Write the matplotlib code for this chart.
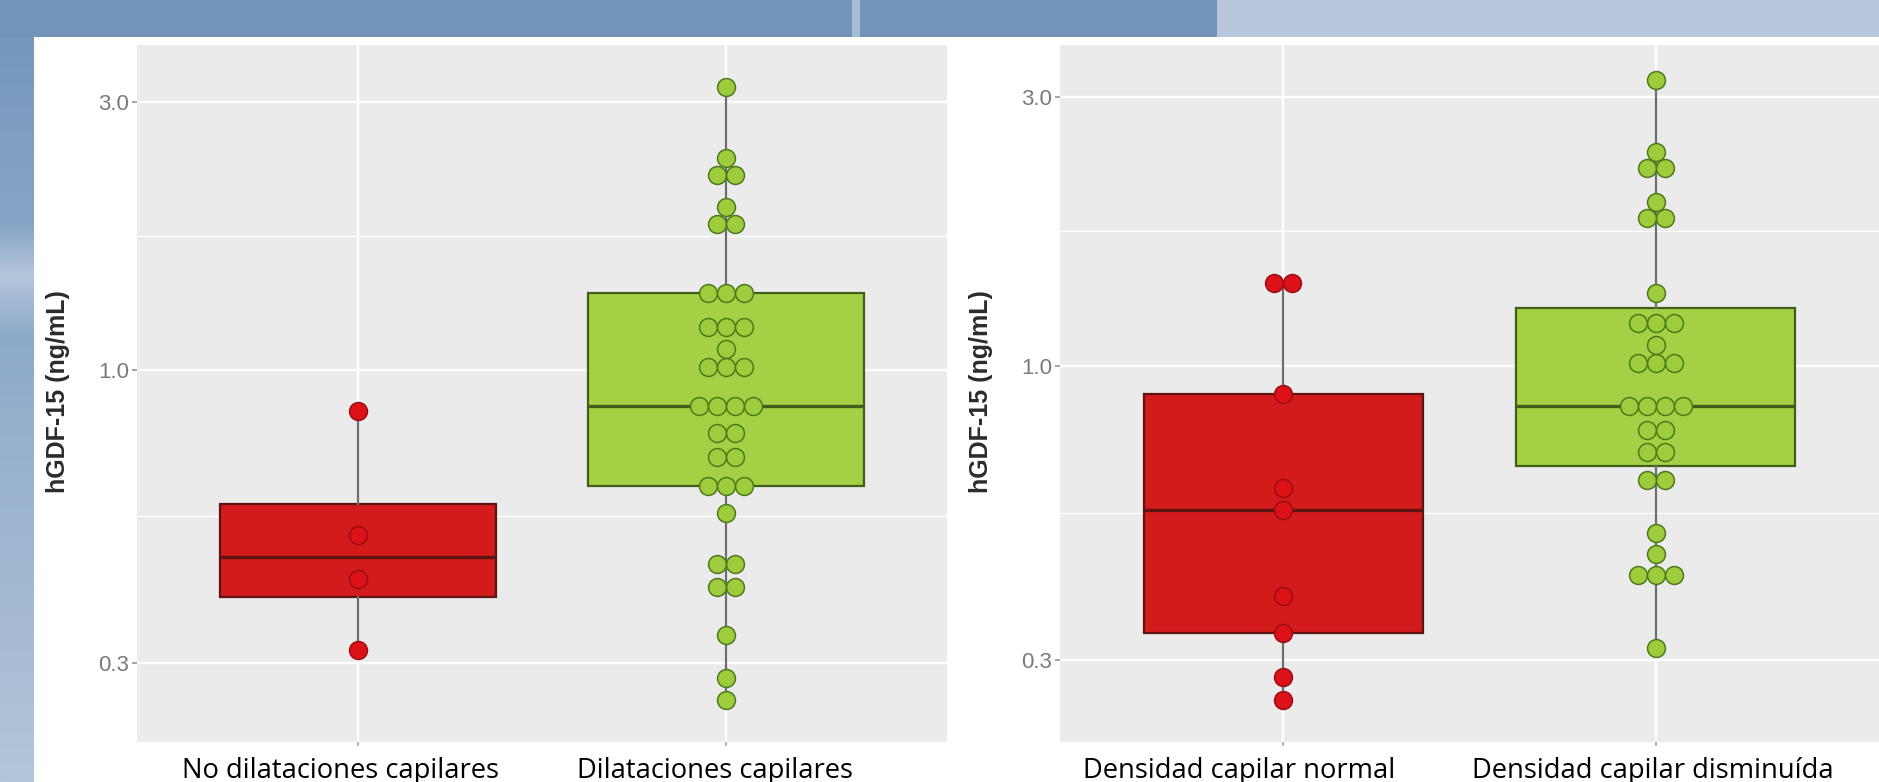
import numpy as np
import matplotlib
matplotlib.use("Agg")
import matplotlib.pyplot as plt
from matplotlib import cbook
from matplotlib.ticker import FixedLocator, NullFormatter
from matplotlib.patches import Rectangle
from matplotlib.colors import LinearSegmentedColormap

# ---- hGDF-15 (ng/mL) by group ----
capilares_groups = ["No dilataciones capilares", "Dilataciones capilares"]
no_dilataciones = [0.843, 0.507, 0.423, 0.3165]
dilataciones = [3.19, 2.38, 2.22, 2.22, 1.95, 1.82, 1.82,
                1.37, 1.37, 1.37, 1.19, 1.19, 1.19, 1.09,
                1.01, 1.01, 1.01, 0.86, 0.86, 0.86, 0.86,
                0.77, 0.77, 0.70, 0.70, 0.62, 0.62, 0.62,
                0.555, 0.45, 0.45, 0.41, 0.41, 0.336, 0.282, 0.258]

densidad_groups = ["Densidad capilar normal", "Densidad capilar disminuída"]
densidad_normal = [1.40, 1.40, 0.89, 0.606, 0.554, 0.390, 0.335, 0.280, 0.255]
densidad_disminuida = [3.21, 2.40, 2.24, 2.24, 1.955, 1.83, 1.83, 1.344,
                       1.19, 1.19, 1.19, 1.088, 1.01, 1.01, 1.01,
                       0.848, 0.848, 0.848, 0.848, 0.769, 0.769, 0.703, 0.703,
                       0.626, 0.626, 0.505, 0.463, 0.425, 0.425, 0.425, 0.315]

y_ticks = [0.3, 1.0, 3.0]
y_tick_labels = ["0.3", "1.0", "3.0"]
y_label = "hGDF-15 (ng/mL)"

# ---- styling ----
W, H, DPI = 1879, 782, 100
RED, RED_EDGE, RED_DOT, RED_DOT_EDGE = "#d31b1b", "#5e1414", "#dc1218", "#990e12"
GREEN, GREEN_EDGE, GREEN_DOT, GREEN_DOT_EDGE = "#a3d044", "#3f5f1a", "#9dcc3c", "#4c7a1b"
PANEL_BG = "#ebebeb"
TICK_FONT = ["Liberation Sans", "DejaVu Sans"]
LABEL_FONT = ["Liberation Sans", "DejaVu Sans"]
SLIDE_FONT = ["Open Sans", "DejaVu Sans"]

fig = plt.figure(figsize=(W / DPI, H / DPI), dpi=DPI, facecolor="white")


def px_rect(x0, y0, x1, y1):
    """Figure-fraction rectangle from pixel edges measured from the top-left."""
    return [x0 / W, 1 - y1 / H, (x1 - x0) / W, (y1 - y0) / H]


# ---- slide background: blue header band and left strip ----
bg = fig.add_axes([0, 0, 1, 1], zorder=-5)
bg.add_patch(Rectangle((0, 0), 1217, 37, color="#7294b9", lw=0))
bg.add_patch(Rectangle((1217, 0), W - 1217, 37, color="#b7c8dc", lw=0))
bg.add_patch(Rectangle((852, 0), 8, 37, color="#a6bdd6", lw=0))
strip_cmap = LinearSegmentedColormap.from_list(
    "strip", [(0.0, "#7698be"), (0.25, "#86a4c6"), (0.32, "#b4c6da"),
              (0.40, "#8eaacb"), (0.65, "#9db5cf"), (1.0, "#b3c5d9")])
grad = np.linspace(0, 1, 256).reshape(-1, 1)
bg.imshow(grad, cmap=strip_cmap, extent=(0, 34, 782, 37), aspect="auto",
          interpolation="bilinear")
bg.set_xlim(0, W)
bg.set_ylim(H, 0)
bg.axis("off")


def log_box_stats(values):
    """Box statistics computed on the log10 scale, returned in data units."""
    st = cbook.boxplot_stats(np.log10(values), whis=1.5)[0]
    for k in ("med", "q1", "q3", "whislo", "whishi", "mean", "cilo", "cihi"):
        st[k] = 10 ** st[k]
    st["fliers"] = 10 ** np.asarray(st["fliers"])
    return st


def draw_panel(rect, ylim, groups, series, fills, edges, dot_faces, dot_edges):
    ax = fig.add_axes(rect)
    ax.set_facecolor(PANEL_BG)
    ax.set_yscale("log")
    for s in ax.spines.values():
        s.set_visible(False)
    ax.set_axisbelow(True)

    positions = np.arange(1, len(groups) + 1)
    stats = [log_box_stats(v) for v in series]
    art = ax.bxp(stats, positions=positions, widths=0.75, patch_artist=True,
                 showcaps=False, showfliers=False, manage_ticks=False,
                 whiskerprops=dict(color="#6e6e6e", lw=1.6),
                 medianprops=dict(lw=2.4), zorder=2)
    for box, med, fc, ec in zip(art["boxes"], art["medians"], fills, edges):
        box.set_facecolor(fc)
        box.set_edgecolor(ec)
        box.set_linewidth(1.6)
        med.set_color(ec)

    ax.set_xlim(0.4, 2.6)
    ax.set_ylim(*ylim)
    ax.set_xticks(positions)
    ax.set_xticklabels([])
    ax.set_yticks(y_ticks)
    ax.set_yticklabels(y_tick_labels, family=TICK_FONT, fontsize=16,
                       color="#7a7a7a")
    minor = [np.sqrt(a * b) for a, b in zip(y_ticks[:-1], y_ticks[1:])]
    ax.yaxis.set_minor_locator(FixedLocator(minor))
    ax.yaxis.set_minor_formatter(NullFormatter())
    ax.tick_params(axis="y", which="major", length=3.6, width=1.1,
                   color="#8a8a8a", pad=2)
    ax.tick_params(axis="y", which="minor", length=0)
    ax.tick_params(axis="x", length=3.0, width=1.1, color="#9a9a9a")
    ax.grid(True, which="major", color="white", lw=1.7)
    ax.grid(True, which="minor", axis="y", color="white", lw=0.9)

    # centred dot stacks: equal values share one row
    ax_w_px = ax.get_position().width * W
    dx = 18.0 * (ax.get_xlim()[1] - ax.get_xlim()[0]) / ax_w_px
    for xpos, vals, fc, ec in zip(positions, series, dot_faces, dot_edges):
        levels, counts = np.unique(np.asarray(vals), return_counts=True)
        xs, ys = [], []
        for lv, n in zip(levels, counts):
            offs = (np.arange(n) - (n - 1) / 2.0) * dx
            xs.extend(xpos + offs)
            ys.extend([lv] * n)
        ax.scatter(xs, ys, s=166, facecolor=fc, edgecolor=ec, lw=1.1,
                   zorder=4)
    return ax


ax1 = draw_panel(px_rect(137, 45, 947, 742), (0.2169, 3.791),
                 capilares_groups, [no_dilataciones, dilataciones],
                 [RED, GREEN], [RED_EDGE, GREEN_EDGE],
                 [RED_DOT, GREEN_DOT], [RED_DOT_EDGE, GREEN_DOT_EDGE])
ax2 = draw_panel(px_rect(1060, 45, 1879, 742), (0.2145, 3.711),
                 densidad_groups, [densidad_normal, densidad_disminuida],
                 [RED, GREEN], [RED_EDGE, GREEN_EDGE],
                 [RED_DOT, GREEN_DOT], [RED_DOT_EDGE, GREEN_DOT_EDGE])

# y-axis titles
for xc in (58, 981):
    fig.text(xc / W, 1 - 392 / H, y_label, rotation=90, ha="center",
             va="center", fontsize=18, fontweight="bold", family=LABEL_FONT,
             color="#2b2b2b")

# group names under each panel
label_x = [182, 577, 1083, 1472]
for xl, name in zip(label_x, capilares_groups + densidad_groups):
    fig.text(xl / W, 1 - 778 / H, name, ha="left", va="baseline",
             fontsize=19.7, family=SLIDE_FONT, color="black")

fig.savefig("out.png", dpi=DPI, facecolor="white")
